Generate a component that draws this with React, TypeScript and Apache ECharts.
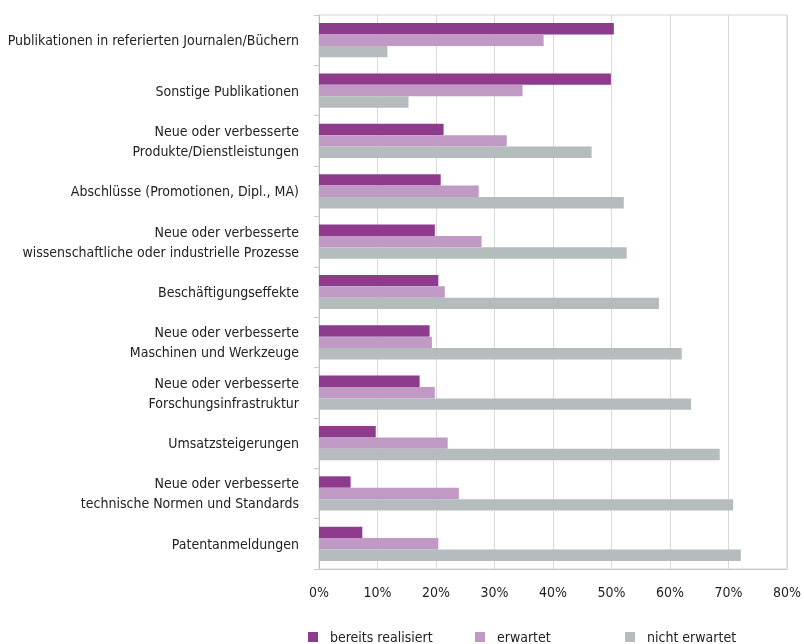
import React, { useEffect, useRef } from "react";
import * as echarts from "echarts";

const categories = [
  "Publikationen in referierten Journalen/Büchern",
  "Sonstige Publikationen",
  "Neue oder verbesserte\nProdukte/Dienstleistungen",
  "Abschlüsse (Promotionen, Dipl., MA)",
  "Neue oder verbesserte\nwissenschaftliche oder industrielle Prozesse",
  "Beschäftigungseffekte",
  "Neue oder verbesserte\nMaschinen und Werkzeuge",
  "Neue oder verbesserte\nForschungsinfrastruktur",
  "Umsatzsteigerungen",
  "Neue oder verbesserte\ntechnische Normen und Standards",
  "Patentanmeldungen",
];
const seriesNames = ["bereits realisiert", "erwartet", "nicht erwartet"];
const realisiert = [50.4, 49.9, 21.3, 20.8, 19.8, 20.4, 18.9, 17.2, 9.7, 5.4, 7.4];
const erwartet = [38.4, 34.8, 32.1, 27.3, 27.8, 21.5, 19.3, 19.8, 22.0, 23.9, 20.4];
const nichtErwartet = [11.7, 15.3, 46.6, 52.1, 52.6, 58.1, 62.0, 63.6, 68.5, 70.8, 72.1];
const colors = ["#8E3B8E", "#C09AC5", "#B4BCBE"];

const FONT = "'Liberation Sans Narrow', 'DejaVu Sans Condensed', sans-serif";

export default function App() {
  const ref = useRef<HTMLDivElement>(null);
  useEffect(() => {
    if (!ref.current) return;
    const chart = echarts.init(ref.current, undefined, { renderer: "svg" });
    const values = [realisiert, erwartet, nichtErwartet];
    const legendLefts = [308, 475, 625];
    chart.setOption({
      animation: false,
      textStyle: { fontFamily: FONT },
      grid: {
        left: 319,
        right: 17,
        top: 15,
        bottom: 75,
        containLabel: false,
        outerBoundsMode: "none",
        show: true,
        borderColor: "#d4d4d4",
        borderWidth: 1,
      },
      legend: seriesNames.map((n, i) => ({
        data: [n],
        left: legendLefts[i],
        top: 630,
        padding: 0,
        icon: "rect",
        itemWidth: 10,
        itemHeight: 10,
        selectedMode: false,
        textStyle: {
          fontFamily: FONT,
          fontSize: 14,
          lineHeight: 14,
          color: "#222",
          padding: [0, 0, 0, 7],
        },
      })),
      xAxis: {
        type: "value",
        min: 0,
        max: 80,
        interval: 10,
        axisLine: { show: true, lineStyle: { color: "#c8c8c8" } },
        axisTick: { show: false },
        splitLine: { show: true, lineStyle: { color: "#d9d9d9", width: 1 } },
        axisLabel: {
          formatter: "{value}%",
          fontFamily: FONT,
          fontSize: 14,
          color: "#222",
          margin: 16,
        },
      },
      yAxis: {
        type: "category",
        inverse: true,
        data: categories,
        axisLine: { show: true, lineStyle: { color: "#c0c0c0" } },
        axisTick: { show: true, length: 5, lineStyle: { color: "#c8c8c8" } },
        axisLabel: {
          fontFamily: FONT,
          fontSize: 14,
          color: "#222",
          margin: 20,
          lineHeight: 20,
        },
      },
      series: seriesNames.map((n, i) => ({
        name: n,
        type: "bar",
        data: values[i],
        barGap: "0%",
        barCategoryGap: "32%",
        itemStyle: { color: colors[i] },
      })),
    });
    return () => chart.dispose();
  }, []);
  return (
    <div
      ref={ref}
      style={{ position: "fixed", left: 0, top: 0, width: 804, height: 644 }}
    />
  );
}
